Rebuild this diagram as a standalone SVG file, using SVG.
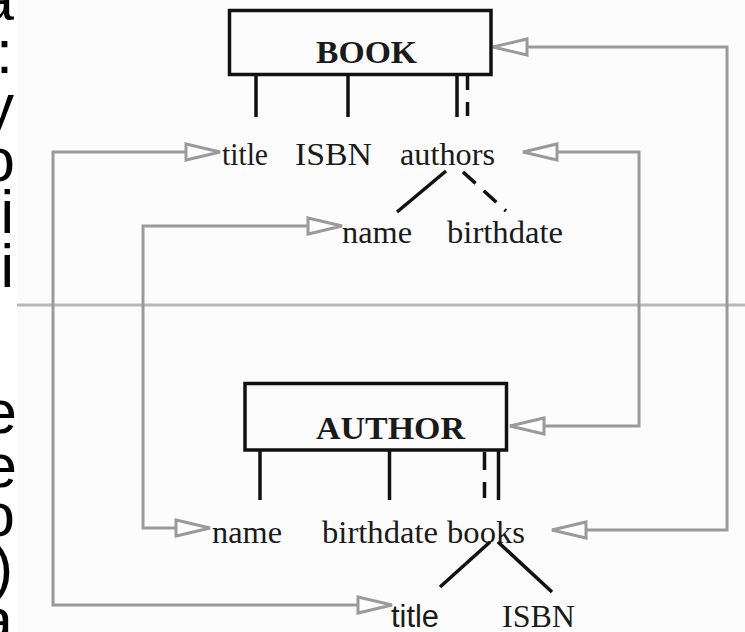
<svg xmlns="http://www.w3.org/2000/svg" width="745" height="632" viewBox="0 0 745 632">
<style>
.frag{font-family:"Liberation Sans",Arial,sans-serif;font-size:61px;fill:#000;text-anchor:end}
.lbl{font-family:"Liberation Serif","Times New Roman",serif;font-size:31px;fill:#1a1a1a}
.ent{font-family:"Liberation Serif","Times New Roman",serif;font-size:32px;font-weight:bold;fill:#1a1a1a}
.sans{font-family:"Liberation Sans",Arial,sans-serif;font-size:31px;fill:#1a1a1a}
.box{fill:none;stroke:#111;stroke-width:3.5}
.att{stroke:#111;stroke-width:3.5;fill:none}
.dash{stroke:#111;stroke-width:3.5;stroke-dasharray:14 12;fill:none}
.conn{fill:none;stroke:#9a9a9a;stroke-width:3;marker-start:url(#tri);marker-end:url(#tri)}
.sep{stroke:#b8b8b8;stroke-width:3}
</style>
<defs>
<marker id="tri" markerUnits="userSpaceOnUse" viewBox="-2 -2 40 22" refX="34" refY="8" markerWidth="40" markerHeight="22" orient="auto-start-reverse" overflow="visible">
<path d="M0,0 L34,8 L0,16 Z" fill="#fff" stroke="#9a9a9a" stroke-width="3"/>
</marker>
</defs>
<rect x="0" y="0" width="745" height="632" fill="#fff"/>
<rect x="17" y="0" width="728" height="632" fill="#fcfcfc"/>
<g id="left-fragments">
<text class="frag" x="14" y="20">a</text>
<text class="frag" x="13" y="73">:</text>
<text class="frag" x="14" y="127">y</text>
<text class="frag" x="15" y="181">o</text>
<text class="frag" x="14" y="233">i</text>
<text class="frag" x="14" y="287">i</text>
<text class="frag" x="17" y="433">e</text>
<text class="frag" x="17" y="487">e</text>
<text class="frag" x="15" y="536">o</text>
<text class="frag" x="13" y="588">)</text>
<text class="frag" x="13" y="641">a</text>
</g>
<line id="separator" class="sep" x1="17" y1="305" x2="745" y2="305"/>
<g id="connectors">
<path class="conn" d="M220,152 L53,152 L53,605 L392,605"/>
<path class="conn" d="M342,226 L143,226 L143,528 L210,528"/>
<path class="conn" d="M493,47 L727,47 L727,530 L552,530"/>
<path class="conn" d="M523,152 L639,152 L639,426 L510,426"/>
</g>
<g id="BOOK">
<rect class="box" x="229.5" y="10.5" width="261.5" height="64"/>
<text class="ent" x="316" y="63" textLength="101" lengthAdjust="spacingAndGlyphs">BOOK</text>
<line class="att" x1="256" y1="74" x2="256" y2="117"/>
<line class="att" x1="348" y1="74" x2="348" y2="117"/>
<line class="att" x1="457" y1="74" x2="457" y2="117"/>
<line class="dash" x1="467.5" y1="76" x2="467.5" y2="117"/>
</g>
<g id="book-title"><text class="lbl" x="222" y="165" textLength="46" lengthAdjust="spacingAndGlyphs">title</text></g>
<g id="book-isbn"><text class="lbl" x="295" y="165" textLength="77" lengthAdjust="spacingAndGlyphs">ISBN</text></g>
<g id="book-authors">
<text class="lbl" x="400" y="165" textLength="95" lengthAdjust="spacingAndGlyphs">authors</text>
<line class="att" x1="446" y1="171" x2="397" y2="212"/>
<line class="dash" x1="463" y1="172" x2="506" y2="211" style="stroke-dasharray:17 11"/>
</g>
<g id="book-authors-name"><text class="lbl" x="342" y="243" textLength="70" lengthAdjust="spacingAndGlyphs">name</text></g>
<g id="book-authors-birthdate"><text class="lbl" x="447" y="243" textLength="116" lengthAdjust="spacingAndGlyphs">birthdate</text></g>
<g id="AUTHOR">
<rect class="box" x="245" y="383.5" width="261.5" height="66.5"/>
<text class="ent" x="316" y="439" textLength="149" lengthAdjust="spacingAndGlyphs">AUTHOR</text>
<line class="att" x1="260" y1="450" x2="260" y2="500"/>
<line class="att" x1="389.5" y1="450" x2="389.5" y2="500"/>
<line class="dash" x1="484.5" y1="452" x2="484.5" y2="498" style="stroke-dasharray:18 12"/>
<line class="att" x1="498.5" y1="450" x2="498.5" y2="500"/>
</g>
<g id="author-name"><text class="lbl" x="212" y="543" textLength="70" lengthAdjust="spacingAndGlyphs">name</text></g>
<g id="author-birthdate"><text class="lbl" x="322" y="543" textLength="116" lengthAdjust="spacingAndGlyphs">birthdate</text></g>
<g id="author-books">
<text class="lbl" x="447" y="543" textLength="78" lengthAdjust="spacingAndGlyphs">books</text>
<line class="att" x1="490" y1="542" x2="440" y2="587"/>
<line class="att" x1="498" y1="542" x2="552" y2="592"/>
</g>
<g id="author-books-title"><text class="sans" x="391" y="627" textLength="48" lengthAdjust="spacingAndGlyphs">title</text></g>
<g id="author-books-isbn"><text class="lbl" x="502" y="627" textLength="73" lengthAdjust="spacingAndGlyphs">ISBN</text></g>
</svg>
